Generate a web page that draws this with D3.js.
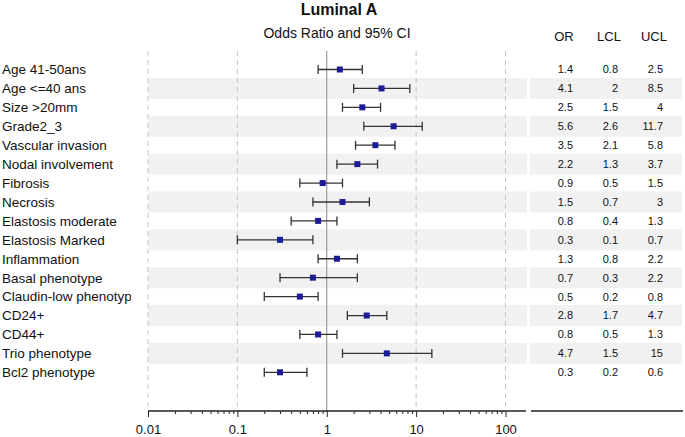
<!DOCTYPE html>
<html>
<head>
<meta charset="utf-8">
<script src="https://cdn.jsdelivr.net/npm/d3@7"></script>
<style>
  body { margin: 0; background: #fff; }
  svg { display: block; font-family: "Liberation Sans", Arial, sans-serif; }
</style>
</head>
<body>
<svg id="chart" width="685" height="437"></svg>
<script>
// forest plot, Luminal A

const labels = [
  "Age 41-50ans", "Age <=40 ans", "Size >20mm", "Grade2_3", "Vascular invasion",
  "Nodal involvement", "Fibrosis", "Necrosis", "Elastosis moderate", "Elastosis Marked",
  "Inflammation", "Basal phenotype", "Claudin-low phenotype", "CD24+", "CD44+",
  "Trio phenotype", "Bcl2 phenotype"
];
const orVals  = [1.4, 4.1, 2.5, 5.6, 3.5, 2.2, 0.9, 1.5, 0.8, 0.3, 1.3, 0.7, 0.5, 2.8, 0.8, 4.7, 0.3];
const lclVals = [0.8, 2,   1.5, 2.6, 2.1, 1.3, 0.5, 0.7, 0.4, 0.1, 0.8, 0.3, 0.2, 1.7, 0.5, 1.5, 0.2];
const uclVals = [2.5, 8.5, 4,  11.7, 5.8, 3.7, 1.5, 3,   1.3, 0.7, 2.2, 2.2, 0.8, 4.7, 1.3, 15,  0.6];
const columns = ["OR", "LCL", "UCL"];
const xTicks = [0.01, 0.1, 1, 10, 100];

const svg = d3.select("#chart");

const x = d3.scaleLog().domain([0.01, 100]).range([148, 505.5]);
const y = d3.scalePoint().domain(labels).range([69.5, 372.3]);
const colX = d3.scalePoint().domain(columns).range([573, 663]);   // right edge of each column

const axisY = 411;
const gridTop = 51;
const rowH = 21;

const rows = labels.map((l, i) => ({ label: l, or: orVals[i], lcl: lclVals[i], ucl: uclVals[i], i }));

// stripes on every other row
const stripes = svg.append("g").attr("class", "stripes");
rows.filter(d => d.i % 2 === 1).forEach(d => {
  stripes.append("rect")
    .attr("x", 148).attr("y", y(d.label) - rowH / 2)
    .attr("width", 379).attr("height", rowH)
    .attr("fill", "#f1f1f1");
  stripes.append("rect")
    .attr("x", 530).attr("y", y(d.label) - rowH / 2)
    .attr("width", 152).attr("height", rowH)
    .attr("fill", "#f1f1f1");
});

// grid lines
svg.append("g").attr("class", "grid")
  .selectAll("line")
  .data(xTicks)
  .join("line")
    .attr("x1", d => x(d)).attr("x2", d => x(d))
    .attr("y1", gridTop).attr("y2", axisY)
    .attr("stroke", d => d === 1 ? "#8a8a8a" : "#c4c4c4")
    .attr("stroke-width", 1)
    .attr("stroke-dasharray", d => d === 1 ? null : "5,4");

// title block
svg.append("text")
  .attr("x", 339).attr("y", 15)
  .attr("text-anchor", "middle")
  .attr("font-size", 16).attr("font-weight", "bold")
  .attr("fill", "#111")
  .text("Luminal A");
svg.append("text")
  .attr("x", 337).attr("y", 38)
  .attr("text-anchor", "middle")
  .attr("font-size", 14)
  .attr("fill", "#111")
  .text("Odds Ratio and 95% CI");

// column headers
svg.append("g").selectAll("text")
  .data(columns)
  .join("text")
    .attr("x", d => colX(d) - 9)
    .attr("y", 41)
    .attr("text-anchor", "middle")
    .attr("font-size", 13)
    .attr("fill", "#111")
    .text(d => d);

// row labels, clipped like the original
svg.append("clipPath").attr("id", "label-clip")
  .append("rect").attr("x", 0).attr("y", 0).attr("width", 131).attr("height", 437);

svg.append("g").attr("clip-path", "url(#label-clip)")
  .selectAll("text")
  .data(rows)
  .join("text")
    .attr("x", 2)
    .attr("y", d => y(d.label))
    .attr("dy", "0.36em")
    .attr("font-size", 13.5)
    .attr("fill", "#111")
    .text(d => d.label);

// confidence intervals
const ci = svg.append("g").attr("class", "ci").attr("stroke", "#333").attr("stroke-width", 1.3);
ci.selectAll("line.bar")
  .data(rows)
  .join("line")
    .attr("class", "bar")
    .attr("x1", d => x(d.lcl)).attr("x2", d => x(d.ucl))
    .attr("y1", d => y(d.label)).attr("y2", d => y(d.label));
ci.selectAll("line.lo")
  .data(rows)
  .join("line")
    .attr("class", "lo")
    .attr("x1", d => x(d.lcl)).attr("x2", d => x(d.lcl))
    .attr("y1", d => y(d.label) - 4.5).attr("y2", d => y(d.label) + 4.5);
ci.selectAll("line.hi")
  .data(rows)
  .join("line")
    .attr("class", "hi")
    .attr("x1", d => x(d.ucl)).attr("x2", d => x(d.ucl))
    .attr("y1", d => y(d.label) - 4.5).attr("y2", d => y(d.label) + 4.5);

// point estimates
svg.append("g").selectAll("rect")
  .data(rows)
  .join("rect")
    .attr("x", d => x(d.or) - 3).attr("y", d => y(d.label) - 3)
    .attr("width", 6).attr("height", 6)
    .attr("fill", "#1c1c96");

// table values
const fmt = v => String(v);
columns.forEach((c, ci2) => {
  const vals = [orVals, lclVals, uclVals][ci2];
  svg.append("g").selectAll("text")
    .data(rows)
    .join("text")
      .attr("x", colX(c))
      .attr("y", d => y(d.label))
      .attr("dy", "0.36em")
      .attr("text-anchor", "end")
      .attr("font-size", 11)
      .attr("fill", "#111")
      .text(d => fmt(vals[d.i]));
});

// x axis
const minor = [];
for (let e = -2; e < 2; e++) for (let k = 2; k <= 9; k++) minor.push(k * Math.pow(10, e));

const gAxis = svg.append("g").attr("transform", "translate(0," + axisY + ")");
gAxis.append("g")
  .call(d3.axisBottom(x).tickValues(minor).tickSize(3).tickFormat(""))
  .call(g => g.select(".domain").remove())
  .call(g => g.selectAll("line").attr("stroke", "#222"));
gAxis.append("g")
  .call(d3.axisBottom(x).tickValues(xTicks).tickSize(6).tickPadding(8).tickFormat(d3.format("~g")))
  .call(g => g.select(".domain").remove())
  .call(g => g.selectAll("line").attr("stroke", "#222"))
  .call(g => g.selectAll("text").attr("font-size", 13).attr("fill", "#111")
    .attr("font-family", "'Liberation Sans', Arial, sans-serif"));
gAxis.append("line").attr("x1", 148).attr("x2", 526).attr("stroke", "#222").attr("stroke-width", 1.3);
gAxis.append("line").attr("x1", 531).attr("x2", 683).attr("stroke", "#222").attr("stroke-width", 1.3);
</script>
</body>
</html>
